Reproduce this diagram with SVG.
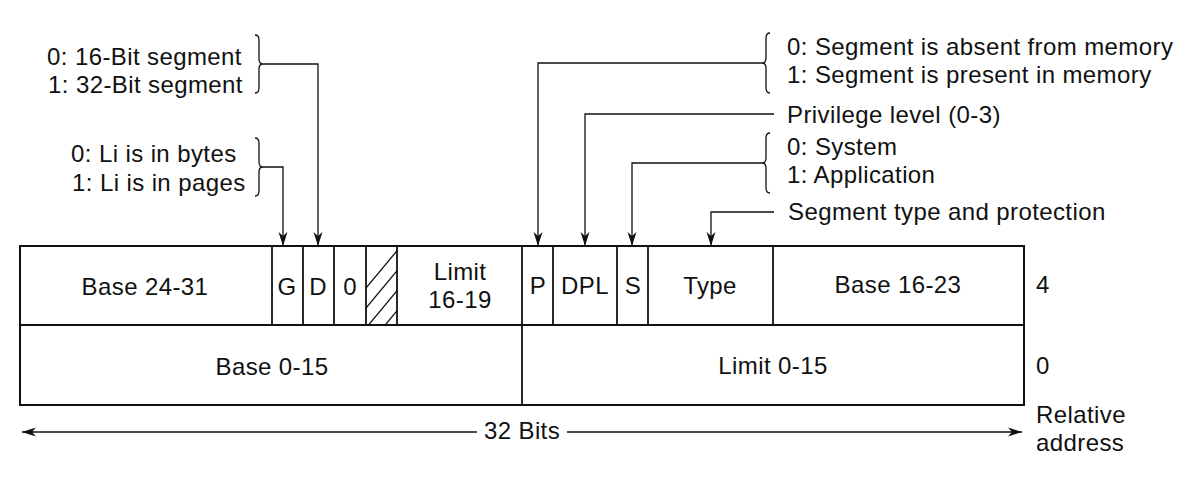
<svg xmlns="http://www.w3.org/2000/svg" width="1195" height="498" viewBox="0 0 1195 498">
<style>
text{font-family:"Liberation Sans",Arial,Helvetica,sans-serif;font-size:24px;letter-spacing:0.4px;fill:#111}
.c{text-anchor:middle}
.box{fill:#fff;stroke:#111;stroke-width:2}
.div{stroke:#111;stroke-width:1.8;fill:none}
.con{stroke:#111;stroke-width:1.3;fill:none}
.br{stroke:#111;stroke-width:1.3;fill:none}
.hatch{stroke:#111;stroke-width:1.3}
</style>
<defs>
<marker id="ah" markerUnits="userSpaceOnUse" markerWidth="16" markerHeight="10" viewBox="-15 -5 16 10" refX="0" refY="0" orient="auto">
<path d="M0,0 L-14,-4.5 L-10,0 L-14,4.5 Z" fill="#111"/>
</marker>
<clipPath id="hc"><rect x="366" y="246" width="31" height="79"/></clipPath>
</defs>
<rect width="1195" height="498" fill="#fff"/>

<g id="descriptor">
<rect class="box" x="20" y="246" width="1004" height="159"/>
<line class="div" x1="20" y1="325" x2="1024" y2="325"/>
</g>

<g id="base24-31">
<text class="c" x="145" y="295">Base 24-31</text>
</g>
<g id="g-bit">
<line class="div" x1="272" y1="246" x2="272" y2="325"/>
<text class="c" x="287" y="295">G</text>
</g>
<g id="d-bit">
<line class="div" x1="303" y1="246" x2="303" y2="325"/>
<text class="c" x="318" y="295">D</text>
</g>
<g id="zero-bit">
<line class="div" x1="334" y1="246" x2="334" y2="325"/>
<text class="c" x="350" y="295">0</text>
</g>
<g id="reserved">
<line class="div" x1="366" y1="246" x2="366" y2="325"/>
<g clip-path="url(#hc)" class="hatch">
<line x1="356" y1="300" x2="406" y2="240"/>
<line x1="356" y1="320" x2="406" y2="260"/>
<line x1="356" y1="340" x2="406" y2="280"/>
<line x1="356" y1="360" x2="406" y2="300"/>
<line x1="356" y1="380" x2="406" y2="320"/>
</g>
<line class="div" x1="397" y1="246" x2="397" y2="325"/>
</g>
<g id="limit16-19">
<text class="c" x="460" y="280">Limit</text>
<text class="c" x="460" y="308">16-19</text>
</g>
<g id="p-bit">
<line class="div" x1="522" y1="246" x2="522" y2="405"/>
<text class="c" x="538" y="294">P</text>
</g>
<g id="dpl">
<line class="div" x1="553" y1="246" x2="553" y2="325"/>
<text class="c" x="585" y="294">DPL</text>
</g>
<g id="s-bit">
<line class="div" x1="617" y1="246" x2="617" y2="325"/>
<text class="c" x="633" y="294">S</text>
</g>
<g id="type">
<line class="div" x1="648" y1="246" x2="648" y2="325"/>
<text class="c" x="710" y="294">Type</text>
</g>
<g id="base16-23">
<line class="div" x1="773" y1="246" x2="773" y2="325"/>
<text class="c" x="898" y="293">Base 16-23</text>
</g>
<g id="base0-15">
<text class="c" x="272" y="375">Base 0-15</text>
</g>
<g id="limit0-15">
<text class="c" x="773" y="374">Limit 0-15</text>
</g>

<g id="offsets">
<text x="1036" y="293">4</text>
<text x="1036" y="374">0</text>
<text x="1036" y="423">Relative</text>
<text x="1036" y="451">address</text>
</g>

<g id="label-d">
<text x="47" y="65">0: 16-Bit segment</text>
<text x="48" y="93">1: 32-Bit segment</text>
<path class="br" d="M255,35 Q259,35 259,40 L259,59 Q259,64 263,64 Q259,64 259,69 L259,88 Q259,93 255,93"/>
</g>
<g id="label-g">
<text x="71" y="162">0: Li is in bytes</text>
<text x="72" y="191">1: Li is in pages</text>
<path class="br" d="M255,138 Q259,138 259,143 L259,162 Q259,167 263,167 Q259,167 259,172 L259,191 Q259,196 255,196"/>
</g>
<g id="label-p">
<text x="787" y="55">0: Segment is absent from memory</text>
<text x="787" y="83">1: Segment is present in memory</text>
<path class="br" d="M770,33 Q766,33 766,38 L766,58 Q766,63 762,63 Q766,63 766,68 L766,88 Q766,93 770,93"/>
</g>
<g id="label-dpl">
<text x="787" y="123">Privilege level (0-3)</text>
</g>
<g id="label-s">
<text x="787" y="155">0: System</text>
<text x="787" y="183">1: Application</text>
<path class="br" d="M770,133 Q766,133 766,138 L766,158 Q766,163 762,163 Q766,163 766,168 L766,188 Q766,193 770,193"/>
</g>
<g id="label-type">
<text x="788" y="220">Segment type and protection</text>
</g>
<g id="label-width">
<text class="c" x="522" y="439">32 Bits</text>
</g>

<g id="connectors">
<path class="con" d="M263,64 H318 V246" marker-end="url(#ah)"/>
<path class="con" d="M263,167 H283 V246" marker-end="url(#ah)"/>
<path class="con" d="M762,63 H538 V246" marker-end="url(#ah)"/>
<path class="con" d="M774,114 H585 V246" marker-end="url(#ah)"/>
<path class="con" d="M762,163 H632 V246" marker-end="url(#ah)"/>
<path class="con" d="M774,212 H711 V246" marker-end="url(#ah)"/>
<path class="con" d="M477,432 H22" marker-end="url(#ah)"/>
<path class="con" d="M567,432 H1022" marker-end="url(#ah)"/>
</g>
</svg>
